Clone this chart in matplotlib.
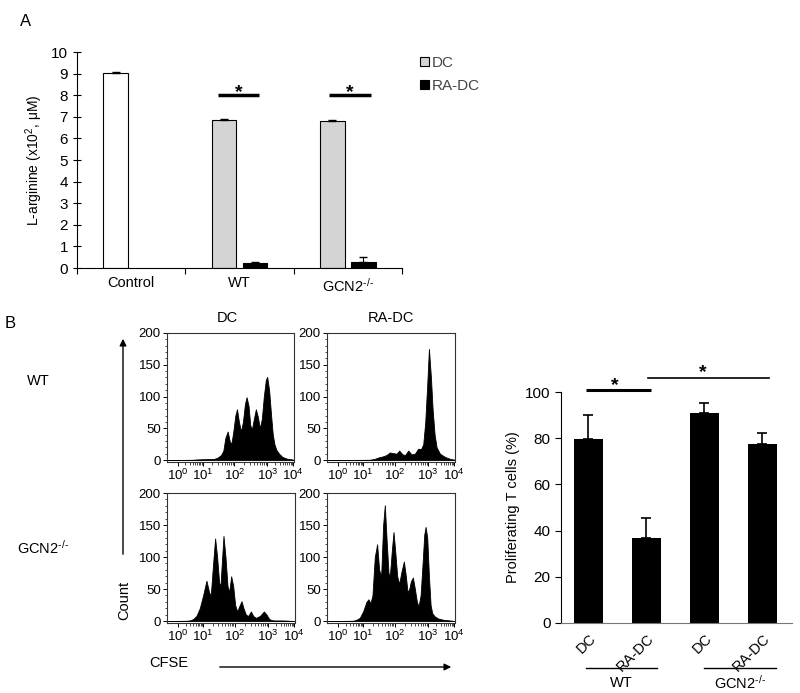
import numpy as np
import matplotlib
matplotlib.use("Agg")
import matplotlib.pyplot as plt
from matplotlib.patches import Patch, FancyArrowPatch

plt.rcParams['font.family'] = ['Liberation Sans', 'DejaVu Sans']
plt.rcParams['mathtext.fontset'] = 'custom'
plt.rcParams['mathtext.rm'] = 'Liberation Sans'
plt.rcParams['mathtext.it'] = 'Liberation Sans:italic'
plt.rcParams['mathtext.default'] = 'regular'

KO = 'GCN2$^{\u2010/\u2010}$'

# ---- panel A data
a_groups = ['Control', 'WT', KO]
a_control = 9.05
a_control_err = 0.02
a_dc = [6.85, 6.82]
a_dc_err = [0.06, 0.03]
a_radc = [0.22, 0.30]
a_radc_err = [0.07, 0.20]

# ---- panel B bar data
b_labels = ['DC', 'RA-DC', 'DC', 'RA-DC']
b_vals = [79.5, 37.0, 90.8, 77.3]
b_err = [10.7, 8.5, 4.5, 4.9]

# ---- histograms (channel position, count)
h_wt_dc_x = [22, 100, 110, 165, 175, 185, 192, 198, 205, 211, 216, 222, 228, 233, 239, 245, 251, 257, 262,
             268, 273, 278, 284, 290, 296, 302, 308, 314, 320, 324, 330, 336, 341, 346, 352, 360, 370, 385, 400, 405]
h_wt_dc_y = [0, 0.5, 1, 2, 4, 8, 15, 35, 45, 30, 25, 45, 70, 80, 60, 45, 60, 88, 99,
             85, 55, 48, 65, 80, 68, 50, 65, 100, 126, 131, 110, 70, 40, 25, 16, 10, 5, 2, 1, 0.5]

h_wt_ra_x = [22, 150, 165, 175, 190, 200, 210, 220, 230, 238, 248, 256, 265, 275, 285, 295, 303, 310,
             316, 322, 327, 333, 338, 344, 350, 360, 375, 390, 405]
h_wt_ra_y = [0, 0.5, 2, 4, 6, 8, 12, 11, 10, 15, 9, 8, 15, 9, 10, 18, 17, 25,
             60, 120, 175, 130, 80, 40, 20, 10, 5, 2, 0.5]

h_ko_dc_x = [22, 80, 90, 100, 110, 120, 130, 140, 148, 153, 160, 166, 172, 178, 182, 186, 191, 197, 203,
             208, 214, 220, 226, 232, 238, 245, 251, 258, 265, 273, 280, 288, 300, 312, 320, 328, 340, 370, 405]
h_ko_dc_y = [0, 0.5, 1, 3, 8, 20, 40, 63, 45, 40, 90, 129, 100, 60, 55, 90, 133, 100, 55,
             45, 70, 55, 25, 15, 23, 31, 20, 10, 8, 15, 8, 5, 8, 15, 10, 3, 1, 1, 0]

h_ko_ra_x = [22, 100, 110, 120, 130, 140, 146, 152, 158, 165, 172, 178, 184, 190, 195, 200, 206, 210, 216,
             221, 226, 232, 238, 244, 252, 258, 263, 268, 273, 279, 285, 291, 296, 302, 308, 313, 317, 322,
             327, 332, 337, 345, 355, 370, 390, 405]
h_ko_ra_y = [0, 0.5, 2, 5, 15, 30, 34, 28, 40, 100, 120, 80, 70, 150, 181, 130, 75, 70, 110,
             139, 110, 70, 58, 75, 93, 70, 45, 50, 62, 68, 50, 30, 23, 40, 90, 135, 147, 130,
             70, 25, 12, 7, 4, 2, 1, 0]

hist_ticks = [55, 130, 225, 325, 402]
hist_ticklabels = ['$10^{0}$', '$10^{1}$', '$10^{2}$', '$10^{3}$', '$10^{4}$']

W, H = 800, 693
fig = plt.figure(figsize=(8, 6.93), dpi=100)


def box(l, t, r, b):
    return [l / W, 1 - b / H, (r - l) / W, (b - t) / H]


# ================= panel A
ax = fig.add_axes(box(77, 52, 402, 268))
off, bw = 0.143, 0.23
ax.bar(0.5 - off, a_control, bw, color='white', edgecolor='black', lw=0.8,
       yerr=[[0], [a_control_err]], error_kw=dict(ecolor='black', lw=0.8, capsize=3))
xc = np.array([1.5, 2.5])
ax.bar(xc - off, a_dc, bw, color='#d4d4d4', edgecolor='black', lw=0.8,
       yerr=[[0, 0], a_dc_err], error_kw=dict(ecolor='black', lw=0.8, capsize=3))
ax.bar(xc + off, a_radc, bw, color='black', edgecolor='black', lw=0.8,
       yerr=[[0, 0], a_radc_err], error_kw=dict(ecolor='black', lw=0.8, capsize=3))
ax.set_xlim(0, 3)
ax.set_ylim(0, 10)
ax.set_yticks(range(11))
ax.set_xticks([0, 1, 2, 3])
ax.set_xticklabels([])
ax.set_xticks([0.5, 1.5, 2.5], minor=True)
ax.set_xticklabels(a_groups, minor=True, fontsize=10.5)
ax.tick_params(axis='x', which='minor', length=0, pad=6)
ax.tick_params(axis='x', which='major', length=4, direction='out')
ax.tick_params(axis='y', direction='inout', length=6, labelsize=11)
for s in ['top', 'right']:
    ax.spines[s].set_visible(False)
ax.set_ylabel('L-arginine (x10$^2$, μM)', fontsize=10, labelpad=4)
for x0, x1 in [(1.30, 1.68), (2.33, 2.71)]:
    ax.plot([x0, x1], [8.0, 8.0], color='black', lw=2.5, solid_capstyle='butt')
    ax.text((x0 + x1) / 2, 7.75, '*', ha='center', va='bottom', fontsize=14, fontweight='bold')
fig.legend(handles=[Patch(facecolor='#d4d4d4', edgecolor='black', lw=0.8, label='DC'),
                    Patch(facecolor='black', edgecolor='black', lw=0.8, label='RA-DC')],
           loc='upper left', bbox_to_anchor=(406 / W, 1 - 42 / H), frameon=False,
           handlelength=0.6, handleheight=0.6, handletextpad=0.2, labelspacing=0.6,
           fontsize=11, labelcolor='#444444')
fig.text(26 / W, 1 - 22 / H, 'A', fontsize=12, ha='center', va='center')

# ================= panel B histograms
fig.text(10 / W, 1 - 323 / H, 'B', fontsize=12, ha='center', va='center')
hists = [(box(167, 333, 294, 462), h_wt_dc_x, h_wt_dc_y),
         (box(327, 333, 455, 462), h_wt_ra_x, h_wt_ra_y),
         (box(167, 493, 295, 623), h_ko_dc_x, h_ko_dc_y),
         (box(327, 493, 455, 623), h_ko_ra_x, h_ko_ra_y)]
minor_x = []
for d0, d1 in zip(hist_ticks[:-1], hist_ticks[1:]):
    minor_x += [d0 + np.log10(k) * (d1 - d0) for k in range(2, 10)]
for rect, hx, hy in hists:
    hax = fig.add_axes(rect)
    hax.fill_between(hx, hy, 0, color='black', lw=0.6, edgecolor='black')
    hax.set_xlim(22, 405)
    hax.set_ylim(-3, 200)
    hax.set_yticks([0, 50, 100, 150, 200])
    hax.set_yticks(range(0, 201, 10), minor=True)
    hax.set_xticks(hist_ticks)
    hax.set_xticklabels(hist_ticklabels)
    hax.set_xticks(minor_x, minor=True)
    hax.tick_params(labelsize=9.5, length=3, width=0.7, pad=1.5)
    hax.tick_params(which='minor', length=1.8, width=0.5)
    for s in hax.spines.values():
        s.set_linewidth(0.8)
        s.set_color('#333333')

fig.text(227 / W, 1 - 318 / H, 'DC', fontsize=10.5, ha='center', va='center')
fig.text(391 / W, 1 - 318 / H, 'RA-DC', fontsize=10.5, ha='center', va='center')
fig.text(38 / W, 1 - 381 / H, 'WT', fontsize=10.5, ha='center', va='center')
fig.text(43 / W, 1 - 548 / H, KO, fontsize=10.5, ha='center', va='center')
fig.text(124 / W, 1 - 600 / H, 'Count', fontsize=10.5, ha='center', va='center', rotation=90)
fig.text(169 / W, 1 - 663 / H, 'CFSE', fontsize=10.5, ha='center', va='center')
fig.add_artist(FancyArrowPatch((123 / W, 1 - 557 / H), (123 / W, 1 - 336 / H),
                               transform=fig.transFigure, arrowstyle='-|>',
                               mutation_scale=10, lw=1.0, color='black'))
fig.add_artist(FancyArrowPatch((217 / W, 1 - 667 / H), (454 / W, 1 - 667 / H),
                               transform=fig.transFigure, arrowstyle='-|>',
                               mutation_scale=10, lw=1.0, color='black'))

# ================= panel B bar chart
bx = fig.add_axes(box(561, 392, 792, 623))
pos = np.arange(4)
bx.bar(pos, b_vals, 0.51, color='black', yerr=[[0] * 4, b_err],
       error_kw=dict(ecolor='black', lw=1.2, capsize=3.5, capthick=1.2))
bx.set_xlim(-0.474, 3.51)
bx.set_ylim(0, 100)
bx.set_yticks(range(0, 101, 20))
bx.set_xticks(pos)
bx.set_xticklabels(b_labels, rotation=45, ha='right', rotation_mode='anchor', fontsize=10.5)
bx.tick_params(axis='x', length=0, pad=6)
bx.tick_params(axis='y', length=4, labelsize=11)
for s in ['top', 'right']:
    bx.spines[s].set_visible(False)
bx.spines['bottom'].set_color('#777777')
bx.set_ylabel('Proliferating T cells (%)', fontsize=10.5)
bx.plot([-0.04, 1.08], [100.9, 100.9], color='black', lw=2.2, clip_on=False, solid_capstyle='butt')
bx.text(0.46, 98.9, '*', ha='center', va='bottom', fontsize=14, fontweight='bold')
bx.plot([1.03, 3.11], [106.0, 106.0], color='black', lw=1.2, clip_on=False)
bx.text(1.97, 104.8, '*', ha='center', va='bottom', fontsize=14, fontweight='bold')
bx.plot([-0.04, 1.18], [-19.5, -19.5], color='black', lw=1.0, clip_on=False)
bx.plot([1.99, 3.23], [-19.5, -19.5], color='black', lw=1.0, clip_on=False)
bx.text(0.57, -26, 'WT', ha='center', va='center', fontsize=10.5)
bx.text(2.61, -26, KO, ha='center', va='center', fontsize=10.5)

fig.savefig('out.png', dpi=100)
